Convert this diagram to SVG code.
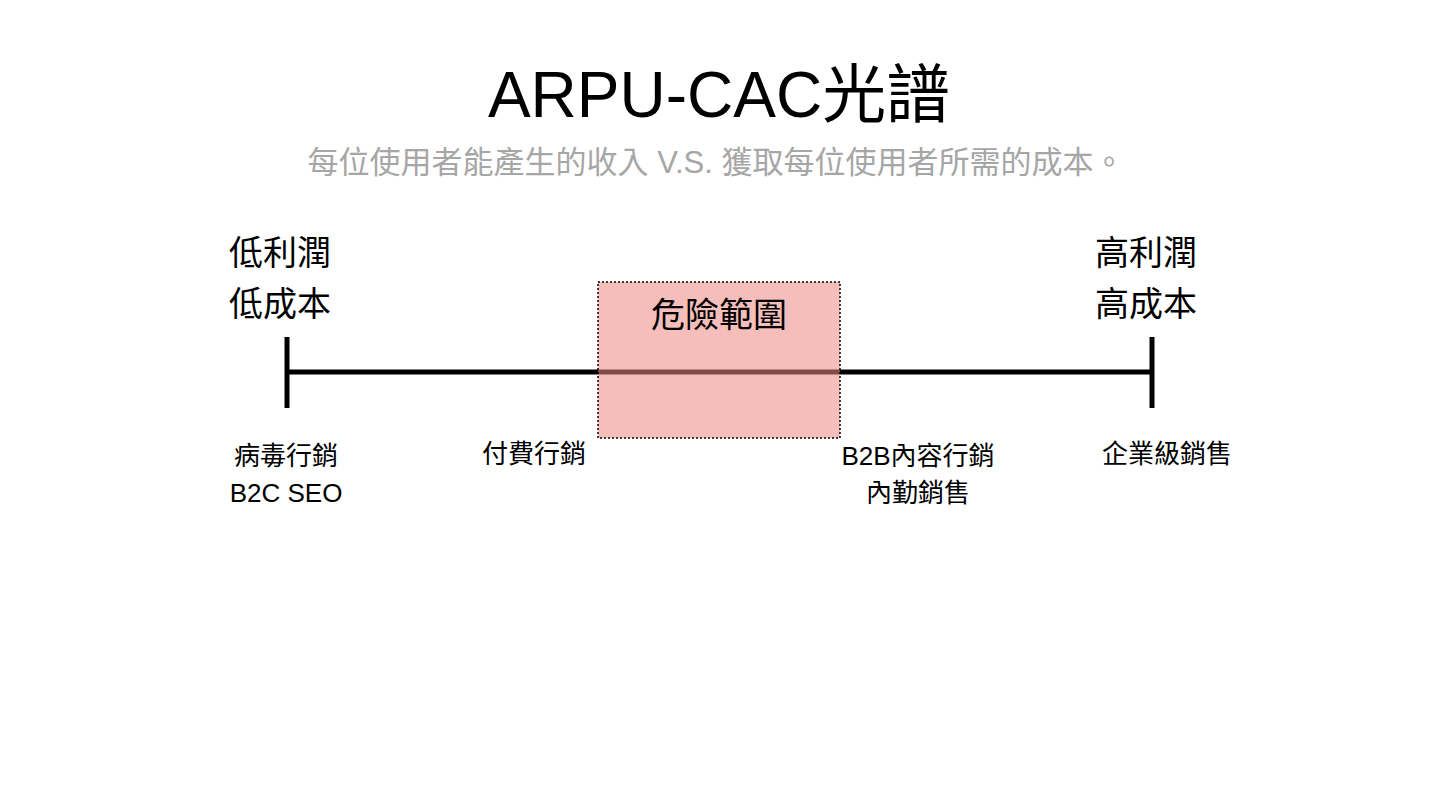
<svg xmlns="http://www.w3.org/2000/svg" width="1439" height="788" viewBox="0 0 1439 788">
<style>
text{font-family:"Liberation Sans","Noto Sans CJK TC",sans-serif;text-anchor:middle;fill:#000}
.big{font-size:34px}
.sm{font-size:26px}
</style>
<rect width="1439" height="788" fill="#fff"/>
<g id="title"><text x="719" y="117" font-size="64">ARPU-CAC光譜</text>
<text x="716" y="173" font-size="31" style="fill:#a6a6a6">每位使用者能產生的收入 V.S. 獲取每位使用者所需的成本。</text></g>
<g id="connectors" stroke="#000" stroke-width="5">
<line x1="287" y1="372" x2="1152" y2="372"/>
<line x1="287" y1="337" x2="287" y2="408"/>
<line x1="1152" y1="337" x2="1152" y2="408"/>
</g>
<g id="danger"><rect x="598" y="282" width="242" height="156" fill="#ee8884" fill-opacity="0.55" stroke="#000" stroke-width="1.5" stroke-dasharray="2,2"/>
<text x="719" y="327" class="big">危險範圍</text></g>
<g id="low"><text x="280" y="265" class="big">低利潤</text><text x="280" y="316" class="big">低成本</text></g>
<g id="high"><text x="1146" y="265" class="big">高利潤</text><text x="1146" y="316" class="big">高成本</text></g>
<g id="viral"><text x="286" y="465" class="sm">病毒行銷</text><text x="286" y="502" class="sm">B2C SEO</text></g>
<g id="paid"><text x="534" y="463" class="sm">付費行銷</text></g>
<g id="b2b"><text x="918" y="465" class="sm">B2B內容行銷</text><text x="918" y="502" class="sm">內勤銷售</text></g>
<g id="enterprise"><text x="1167" y="463" class="sm">企業級銷售</text></g>
</svg>
